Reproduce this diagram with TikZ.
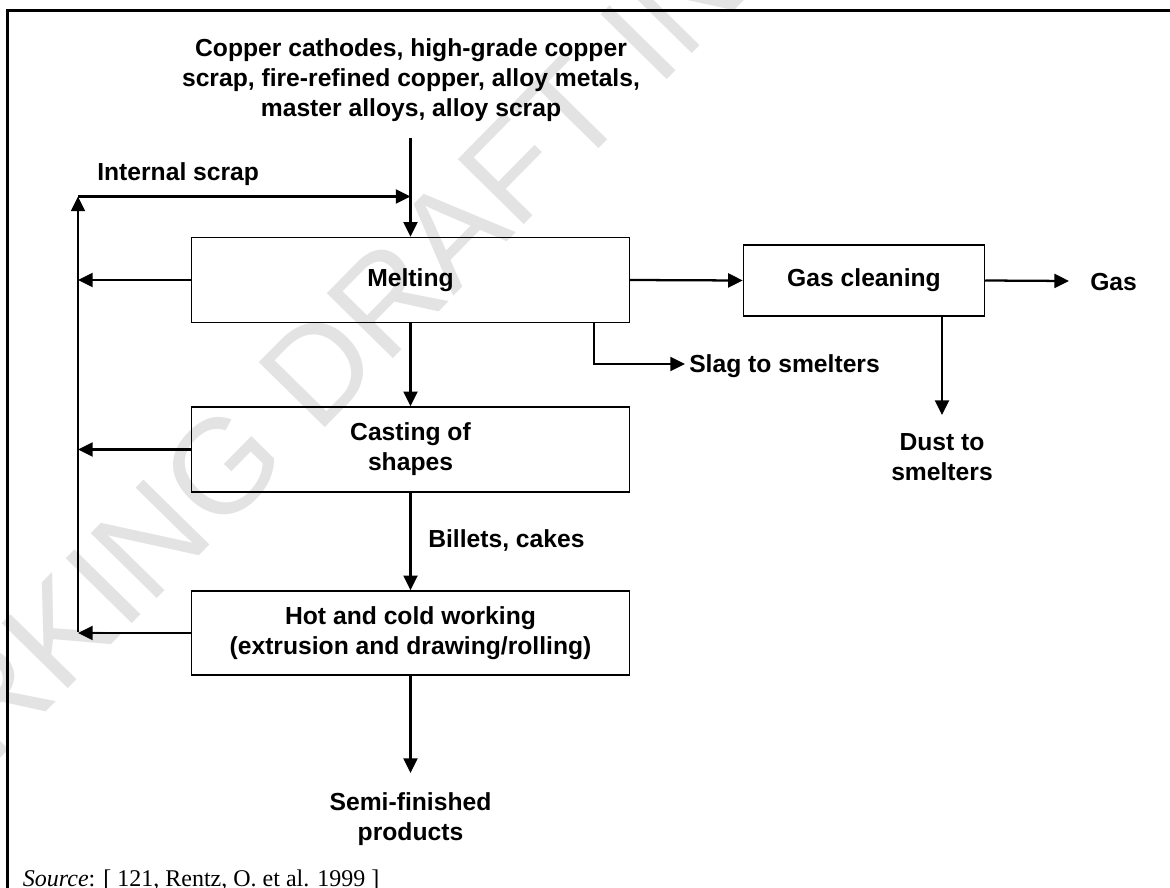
\documentclass[tikz,border=0pt]{standalone}
\usepackage{fontspec}
\setmainfont{Liberation Sans}
\newfontfamily\srcfont{Liberation Serif}
\usetikzlibrary{arrows.meta}
\newcommand\lblfont{\fontsize{18.5pt}{22.5pt}\selectfont\bfseries}
\begin{document}
\begin{tikzpicture}[x=0.75pt,y=-0.75pt,
  box/.style={draw,line width=1.1pt,minimum width=438*0.75pt,minimum height=85*0.75pt,inner sep=0pt,align=center,font=\lblfont},
  lab/.style={inner sep=0pt,align=center,font=\lblfont},
  arr/.style={line width=1.7pt,-{Triangle[length=11pt,width=10.5pt]}},
  frame/.style={line width=2pt}]
\useasboundingbox (0,0) rectangle (1170,888);
% watermark
\node[text=black!11,inner sep=0pt,rotate=45.5,font=\fontsize{101pt}{101pt}\selectfont] (wm) at (539,144) {WORKING DRAFT IN PROGRESS};
% frame
\draw[frame] (1171,10.7) -- (7.5,10.7) -- (7.5,889);
% boxes
\node[box] (melt) at (410.5,280) {Melting};
\node[box] (cast) at (410.5,449.5) {Casting of\\shapes};
\node[box,minimum height=84*0.75pt] (hot) at (410.5,633) {Hot and cold working\\(extrusion and drawing/rolling)};
\node[box,minimum width=241*0.75pt,minimum height=71*0.75pt] (gas) at (864,280.5) {Gas cleaning};
% labels
\node[lab] (in) at (411,80) {Copper cathodes, high-grade copper\\scrap, fire-refined copper, alloy metals,\\master alloys, alloy scrap};
\node[lab,anchor=west] (isc) at (97,174) {Internal scrap};
\node[lab,anchor=west] (slag) at (689,366) {Slag to smelters};
\node[lab,anchor=west] (gasout) at (1090,282) {Gas};
\node[lab] (dust) at (942,457) {Dust to\\smelters};
\node[lab,anchor=west] (bil) at (428,540) {Billets, cakes};
\node[lab] (semi) at (410.5,819) {Semi-finished\\products};
\node[anchor=base west,inner sep=0pt,font=\srcfont\fontsize{18pt}{20pt}\selectfont] (src) at (22.7,886) {\textit{Source}: [ 121, Rentz, O. et al. 1999 ]};
% free ends
\coordinate (inTop) at (410.5,138);
\coordinate (lTop) at (78,196.5);
\coordinate (lBot) at (78,632);
\coordinate (semiTip) at (410.5,773);
\coordinate (gasTip) at (1069,281);
\coordinate (dustTip) at (942,415);
\coordinate (slagTip) at (685,364);
\coordinate (slagX) at (594,0);
% connectors
\draw[arr] (inTop) -- (melt.north);
\draw[arr] (lTop) -- (inTop |- lTop);
\draw[arr] (lBot) -- (lTop);
\draw[arr] (melt.west) -- (melt.west -| lBot);
\draw[arr] (cast.west) -- (cast.west -| lBot);
\draw[arr] (hot.west) -- (hot.west -| lBot);
\draw[arr] (melt.south) -- (cast.north);
\draw[arr] (cast.south) -- (hot.north);
\draw[arr] (hot.south) -- (semiTip);
\draw[arr] (melt.east) -- (gas.west);
\draw[arr] (gas.east) -- (gasTip);
\draw[arr] (gas.south -| dustTip) -- (dustTip);
\draw[arr] (melt.south -| slagX) |- (slagTip);
\end{tikzpicture}
\end{document}
